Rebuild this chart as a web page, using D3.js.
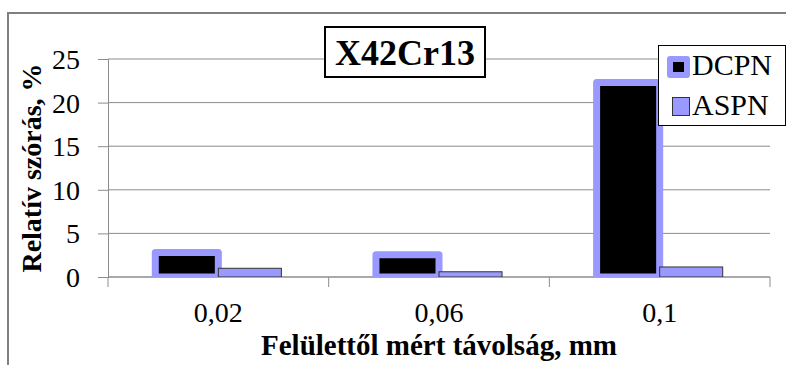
<!DOCTYPE html>
<html>
<head>
<meta charset="utf-8">
<script src="https://cdn.jsdelivr.net/npm/d3@7"></script>
<style>
  body { margin: 0; background: #fff; }
</style>
</head>
<body>
<div id="chart"></div>
<script>
const width = 786
const height = 365
const margin = { top: 59, bottom: 88, left: 108, right: 16 }
const serif = "Liberation Serif"

const categories = ["0,02", "0,06", "0,1"]
const seriesNames = ["DCPN", "ASPN"]
const dcpn = [2.8, 2.55, 22.3]
const aspn = [1.0, 0.6, 1.15]
const yTicks = [0, 5, 10, 15, 20, 25]

const lavender = "#9999ff"
const gridColor = "#8c8c8c"

const svg = d3.select("div#chart").append("svg").attr("width", width).attr("height", height)
    .attr("font-family", serif)

// outer chart border, runs off the right and bottom edge
svg.append("rect")
    .attr("x", 8).attr("y", 13).attr("width", 820).attr("height", 400)
    .attr("fill", "none").attr("stroke", "#808080").attr("stroke-width", 2)

const plotW = width - margin.left - margin.right
const plotH = height - margin.top - margin.bottom

const x = d3.scaleBand().domain(categories).range([0, plotW]).padding(0)
const barW = x.bandwidth() / 3.5   // excel gap width 150%
const x1 = d3.scaleBand().domain(seriesNames)
    .range([x.bandwidth() / 2 - barW, x.bandwidth() / 2 + barW]).padding(0)
const y = d3.scaleLinear().domain([0, 25]).range([plotH, 0])

const g = svg.append("g").attr("transform", `translate(${margin.left}, ${margin.top})`)

// gridlines
g.append("g").selectAll("line").data(yTicks.filter(d => d > 0)).join("line")
    .attr("x1", 0).attr("x2", plotW)
    .attr("y1", d => y(d)).attr("y2", d => y(d))
    .attr("stroke", gridColor).attr("stroke-width", 1)

// y axis
const yAxisGroup = g.append("g").call(d3.axisLeft(y).tickValues(yTicks).tickSize(10).tickFormat(""))
yAxisGroup.select(".domain").attr("stroke", gridColor)
yAxisGroup.selectAll(".tick line").attr("stroke", gridColor)
g.append("g").selectAll("text").data(yTicks).join("text")
    .attr("x", -28).attr("y", d => y(d) + 10)
    .attr("text-anchor", "end")
    .attr("font-family", serif).attr("font-size", 28)
    .text(d => d)

// x axis: baseline, ticks on category boundaries, labels centred
const bounds = categories.map(d => x(d)).concat([plotW])
g.append("line").attr("x1", 0).attr("x2", plotW).attr("y1", plotH).attr("y2", plotH)
    .attr("stroke", gridColor).attr("stroke-width", 1.5)
g.append("g").selectAll("line").data(bounds).join("line")
    .attr("x1", d => d).attr("x2", d => d).attr("y1", plotH).attr("y2", plotH + 10)
    .attr("stroke", gridColor)
g.append("g").selectAll("text").data(categories).join("text")
    .attr("x", d => x(d) + x.bandwidth() / 2).attr("y", plotH + 45)
    .attr("text-anchor", "middle")
    .attr("font-family", serif).attr("font-size", 28)
    .text(d => d)

// bars
const clip = svg.append("clipPath").attr("id", "plotClip")
clip.append("rect").attr("x", -5).attr("y", -20).attr("width", plotW + 10).attr("height", plotH + 20)
const bars = g.append("g").attr("clip-path", "url(#plotClip)")

bars.selectAll("rect.dcpn").data(dcpn).join("rect").attr("class", "dcpn")
    .attr("x", (d, i) => x(categories[i]) + x1("DCPN"))
    .attr("y", d => y(d))
    .attr("width", x1.bandwidth())
    .attr("height", d => plotH - y(d))
    .attr("fill", "#000").attr("stroke", lavender).attr("stroke-width", 7)
    .attr("stroke-linejoin", "round")

bars.selectAll("rect.aspn").data(aspn).join("rect").attr("class", "aspn")
    .attr("x", (d, i) => x(categories[i]) + x1("ASPN"))
    .attr("y", d => y(d))
    .attr("width", x1.bandwidth())
    .attr("height", d => plotH - y(d))
    .attr("fill", lavender).attr("stroke", "#333").attr("stroke-width", 1)

// axis titles
svg.append("text")
    .attr("x", margin.left + plotW / 2).attr("y", 355)
    .attr("text-anchor", "middle")
    .attr("font-family", serif).attr("font-size", 29).attr("font-weight", "bold")
    .text("Felülettől mért távolság, mm")

svg.append("text")
    .attr("transform", `translate(41, ${margin.top + plotH / 2}) rotate(-90)`)
    .attr("text-anchor", "middle")
    .attr("font-family", serif).attr("font-size", 28).attr("font-weight", "bold")
    .text("Relatív szórás, %")

// title box
const titleG = svg.append("g")
titleG.append("rect").attr("x", 325).attr("y", 27).attr("width", 160).attr("height", 50)
    .attr("fill", "#fff").attr("stroke", "#000").attr("stroke-width", 2)
titleG.append("text").attr("x", 405).attr("y", 65).attr("text-anchor", "middle")
    .attr("font-family", serif).attr("font-size", 36).attr("font-weight", "bold")
    .text("X42Cr13")

// legend
const legend = svg.append("g")
legend.append("rect").attr("x", 658.5).attr("y", 45.5).attr("width", 127).attr("height", 80)
    .attr("fill", "#fff").attr("stroke", "#000").attr("stroke-width", 1)
const legendRows = legend.selectAll("g.row").data(seriesNames).join("g").attr("class", "row")
    .attr("transform", (d, i) => `translate(0, ${i * 40})`)
legendRows.filter(d => d === "DCPN").append("rect")
    .attr("x", 670).attr("y", 59).attr("width", 17).attr("height", 16)
    .attr("fill", "#000").attr("stroke", lavender).attr("stroke-width", 6).attr("stroke-linejoin", "round")
legendRows.filter(d => d === "ASPN").append("rect")
    .attr("x", 672.5).attr("y", 57.5).attr("width", 17).attr("height", 18)
    .attr("fill", lavender).attr("stroke", "#333").attr("stroke-width", 1)
legendRows.append("text").attr("x", 692).attr("y", 75)
    .attr("font-family", serif).attr("font-size", 30)
    .text(d => d)
</script>
</body>
</html>
